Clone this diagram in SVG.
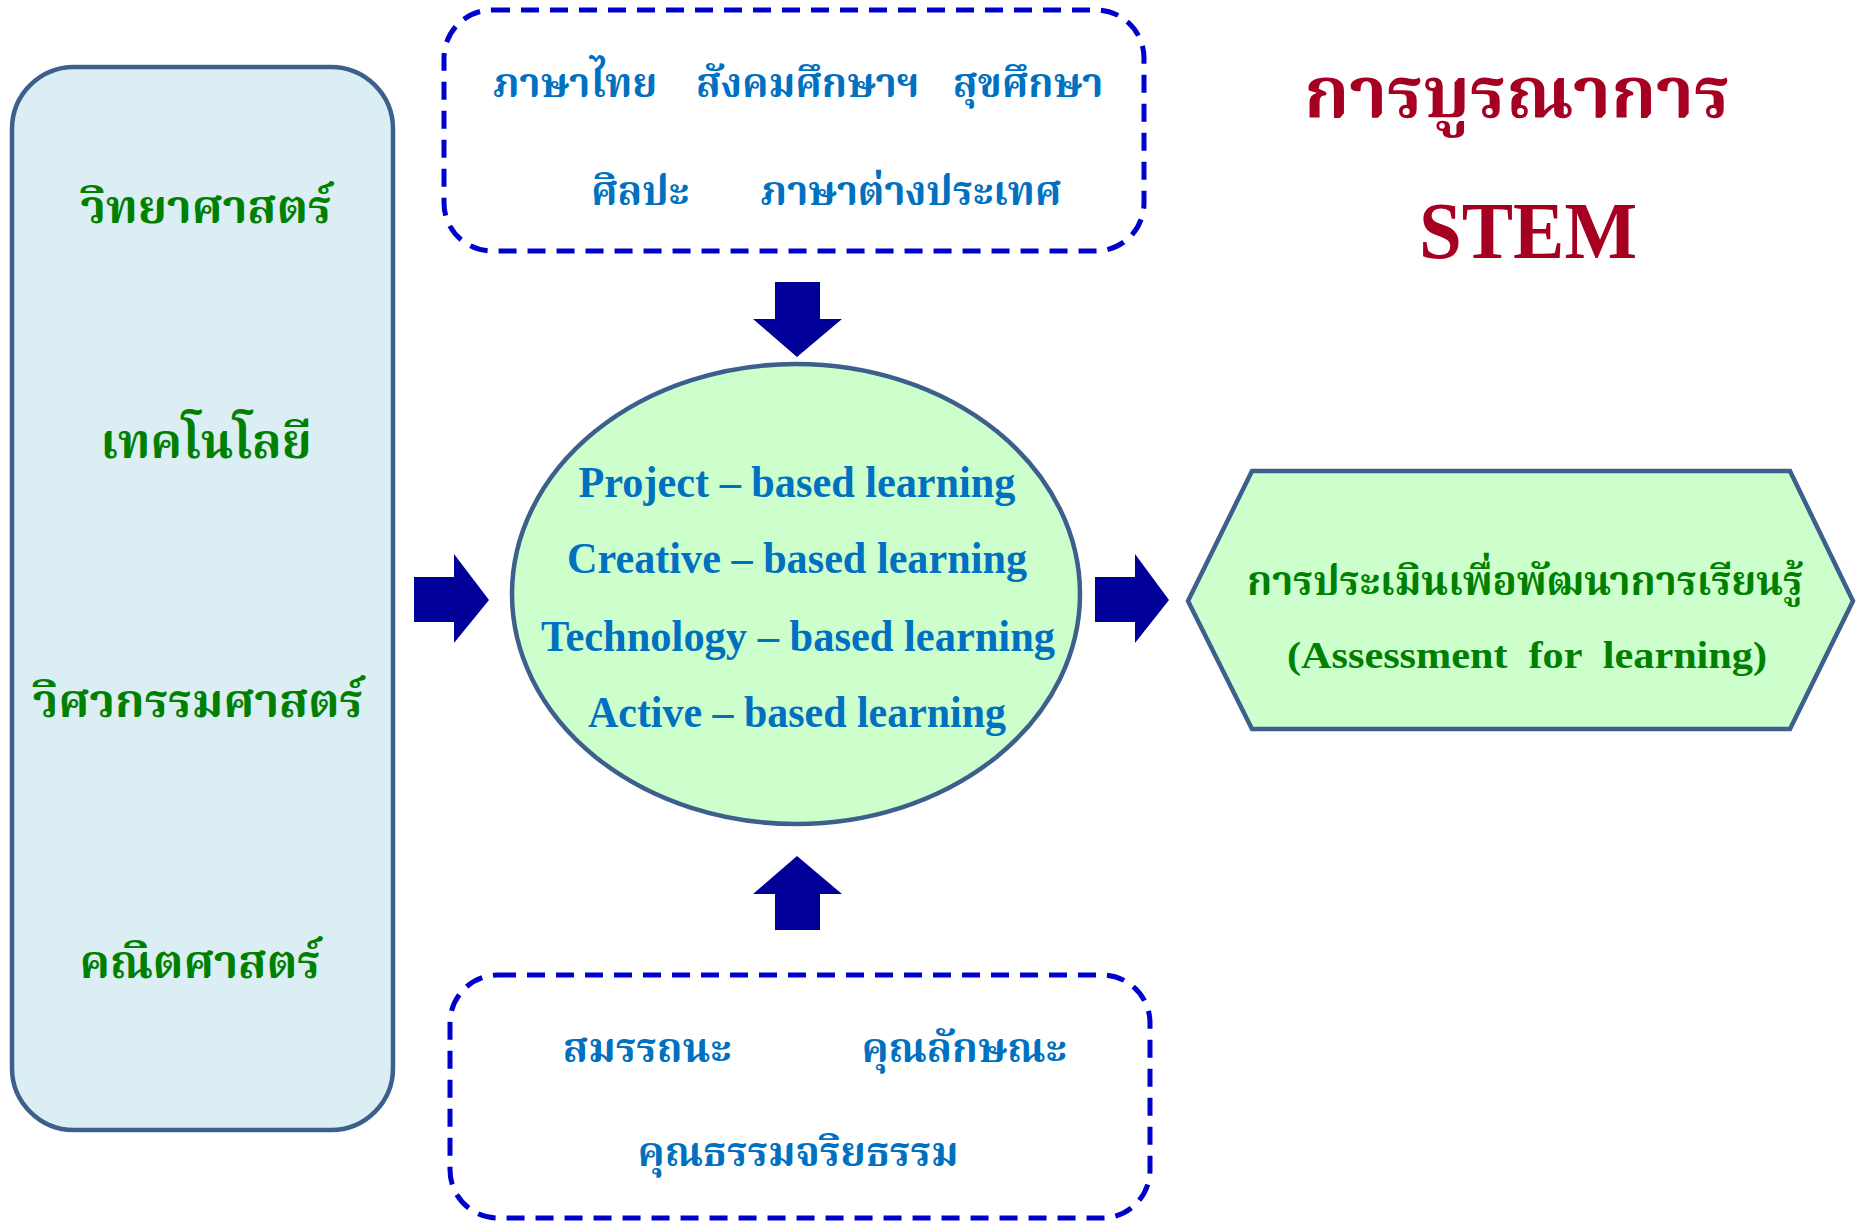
<svg xmlns="http://www.w3.org/2000/svg" width="1865" height="1225" viewBox="0 0 1865 1225">
<defs>
<style>
.thai{font-family:"Noto Serif Thai","Noto Sans Thai Looped","Noto Sans Thai","Loma","Garuda","Liberation Serif",serif;font-weight:bold;text-anchor:middle}
.lat{font-family:"Liberation Serif","Times New Roman",serif;font-weight:bold;text-anchor:middle}
.green{fill:#008000}
.blue{fill:#0070c0}
.red{fill:#a50021}
.dash{fill:#ffffff;stroke:#0000cc;stroke-width:5;stroke-dasharray:18 11}
.solid{stroke:#3c5f8c;stroke-width:4.5}
.arrow{fill:#000099}
</style>
</defs>
<rect width="1865" height="1225" fill="#ffffff"/>
<g id="stem-box">
<rect class="solid" x="12" y="67" width="381" height="1063" rx="62" ry="62" fill="#dbeef4"/>
<text class="thai green" x="206" y="223" font-size="47">วิทยาศาสตร์</text>
<text class="thai green" x="206" y="458" font-size="48">เทคโนโลยี</text>
<text class="thai green" x="198" y="717" font-size="47">วิศวกรรมศาสตร์</text>
<text class="thai green" x="200" y="978" font-size="46">คณิตศาสตร์</text>
</g>
<g id="subjects-box">
<rect class="dash" x="444" y="10" width="700" height="241" rx="48" ry="48"/>
<text class="thai blue" x="575" y="97" font-size="40">ภาษาไทย</text>
<text class="thai blue" x="808" y="97" font-size="40">สังคมศึกษาฯ</text>
<text class="thai blue" x="1028" y="97" font-size="40">สุขศึกษา</text>
<text class="thai blue" x="640" y="205" font-size="40">ศิลปะ</text>
<text class="thai blue" x="911" y="205" font-size="40">ภาษาต่างประเทศ</text>
</g>
<g id="title">
<text class="thai red" x="1517" y="117" font-size="72">การบูรณาการ</text>
<text class="lat red" x="1528" y="258" font-size="80" textLength="218" lengthAdjust="spacingAndGlyphs">STEM</text>
</g>
<g id="learning-ellipse">
<ellipse class="solid" cx="796" cy="594" rx="284" ry="230" fill="#ccffcc"/>
<text class="lat blue" x="797" y="497" font-size="44" textLength="437" lengthAdjust="spacingAndGlyphs">Project – based learning</text>
<text class="lat blue" x="797" y="573" font-size="44" textLength="460" lengthAdjust="spacingAndGlyphs">Creative – based learning</text>
<text class="lat blue" x="798" y="651" font-size="44" textLength="514" lengthAdjust="spacingAndGlyphs">Technology – based learning</text>
<text class="lat blue" x="797" y="727" font-size="44" textLength="418" lengthAdjust="spacingAndGlyphs">Active – based learning</text>
</g>
<g id="assessment-hex">
<polygon class="solid" points="1188,601 1252,471 1790,471 1853,601 1790,729 1252,729" fill="#ccffcc"/>
<text class="thai green" x="1525" y="595" font-size="40">การประเมินเพื่อพัฒนาการเรียนรู้</text>
<text class="lat green" x="1527" y="668" font-size="38" textLength="480" lengthAdjust="spacingAndGlyphs" xml:space="preserve">(Assessment  for  learning)</text>
</g>
<g id="values-box">
<rect class="dash" x="450" y="975" width="700" height="243" rx="48" ry="48"/>
<text class="thai blue" x="647" y="1062" font-size="41">สมรรถนะ</text>
<text class="thai blue" x="964" y="1062" font-size="41">คุณลักษณะ</text>
<text class="thai blue" x="798" y="1166" font-size="41">คุณธรรมจริยธรรม</text>
</g>
<g id="connectors">
<polygon class="arrow" points="775,282 820,282 820,319 842,319 797,357 753,319 775,319"/>
<polygon class="arrow" points="775,930 820,930 820,894 842,894 797,856 753,894 775,894"/>
<polygon class="arrow" points="414,577 454,577 454,554 489,600 454,643 454,622 414,622"/>
<polygon class="arrow" points="1095,577 1135,577 1135,554 1169,600 1135,643 1135,622 1095,622"/>
</g>
</svg>
